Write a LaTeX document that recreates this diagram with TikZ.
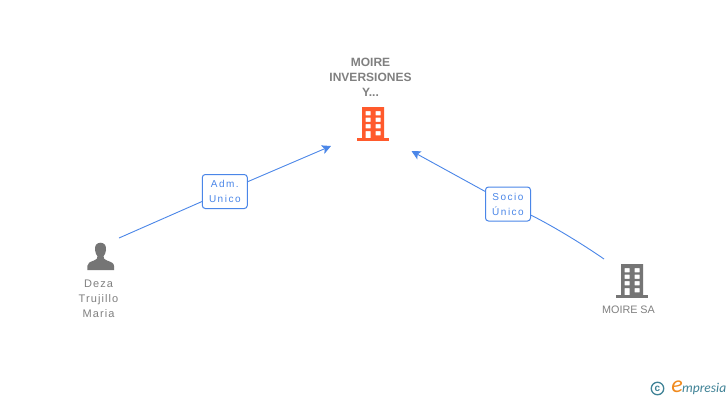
\documentclass[tikz,border=0pt]{standalone}
\usepackage{fontspec}
\setmainfont{Liberation Sans}
\newfontfamily\logofont{Carlito}
\newfontfamily\spaced[LetterSpace=10]{Liberation Sans}
\newfontfamily\spacedb[LetterSpace=15]{Liberation Sans}
\usetikzlibrary{backgrounds,arrows.meta}
\definecolor{iconorange}{HTML}{FF5A2C}
\definecolor{icongray}{HTML}{757575}
\definecolor{txtgray}{HTML}{808080}
\definecolor{edgeblue}{HTML}{4A86E8}
\definecolor{logoteal}{HTML}{3F8296}
\definecolor{logoorange}{HTML}{F08A1E}
\tikzset{
  edgeline/.style={draw=edgeblue,line width=0.9pt},
  edgearrow/.style={edgeline,-{Stealth[length=9pt,width=9pt,inset=2pt]}},
  rolebox/.style={draw=edgeblue,line width=1pt,rounded corners=3pt,fill=white,minimum width=45pt,minimum height=34pt,inner sep=0pt,align=center,text=edgeblue,font=\spacedb\fontsize{10}{15}\selectfont},
  nametext/.style={inner sep=0pt,align=center,text=txtgray,font=\spaced\fontsize{11}{15}\selectfont},
  sanametext/.style={inner sep=0pt,align=center,text=txtgray,font=\fontsize{10.8}{15}\selectfont},
  titletext/.style={inner sep=0pt,align=center,text=txtgray,font=\bfseries\fontsize{12}{15}\selectfont},
  iconanchor/.style={inner sep=0pt,minimum width=32pt,minimum height=34pt},
}
\newcommand{\buildingicon}[3]{%
  \begin{scope}[shift={(#1,#2)}]
    \fill[#3,even odd rule] (-11,-17) rectangle (11,15)
      (-7.5,-13) rectangle (-2.5,-8.7) (2.5,-13) rectangle (7.5,-8.7)
      (-7.5,-6.5) rectangle (-2.5,-2.2) (2.5,-6.5) rectangle (7.5,-2.2)
      (-7.5,0) rectangle (-2.5,4.3) (2.5,0) rectangle (7.5,4.3)
      (-7.5,7) rectangle (-2.5,15) (2.5,7) rectangle (7.5,11.3);
    \fill[#3] (-16,14) rectangle (16,17);
  \end{scope}}
\begin{document}
\begin{tikzpicture}[x=1pt,y=-1pt]
\begin{pgfonlayer}{background}
\fill[white] (0,0) rectangle (728,400);
\end{pgfonlayer}
\useasboundingbox (0,0) rectangle (728,400);
% icons
\node[iconanchor] (moirei) at (373,124) {};
\buildingicon{373}{124}{iconorange}
\node[iconanchor] (moiresa) at (632,281) {};
\buildingicon{632}{281}{icongray}
\node[iconanchor] (deza) at (100.5,256.5) {};
\fill[icongray] (100.5,242.7) .. controls (96,242.7) and (94.6,246.5) .. (95,250)
  .. controls (95.3,253) and (96.4,255) .. (97.5,256.3)
  .. controls (97.8,258.5) and (96.5,259.5) .. (94,260.5)
  .. controls (90,262) and (87.3,263) .. (87.3,266) -- (87.3,270) -- (114,270) -- (114,266)
  .. controls (114,263) and (111,262) .. (107,260.5)
  .. controls (104.5,259.5) and (103.2,258.5) .. (103.5,256.3)
  .. controls (104.6,255) and (105.7,253) .. (106,250)
  .. controls (106.4,246.5) and (105,242.7) .. (100.5,242.7) -- cycle;
% texts
\node[titletext] (title) at (370.5,77.5) {MOIRE\\INVERSIONES\\Y...};
\node[nametext] (dezaname) at (98.5,299) {Deza\\Trujillo\\Maria};
\node[sanametext] (saname) at (628.5,310) {MOIRE SA};
% role boxes
\node[rolebox] (adm) at (224.8,191.5) {Adm.\\Unico};
\node[rolebox] (socio) at (508,204) {Socio\\Único};
% connector ends
\coordinate (dezaend) at (119,238);
\coordinate (moireiL) at (331,146);
\coordinate (moireiR) at (411.5,151);
\coordinate (saend) at (604,259);
\begin{pgfonlayer}{background}
  \draw[edgeline] (dezaend) -- (adm);
  \draw[edgearrow] (adm) -- (moireiL);
  \draw[edgeline] (saend) .. controls (575,239) and (545,222) .. (socio);
  \draw[edgearrow] (socio) -- (moireiR);
\end{pgfonlayer}
% logo
\node[draw=logoteal,line width=1.3pt,circle,minimum size=12.5pt,inner sep=0pt,text=logoteal,font=\bfseries\fontsize{10}{10}\selectfont] (copy) at (657.5,388.5) {c};
\node[inner sep=0pt,text=logoorange,font=\logofont\itshape\fontsize{24}{24}\selectfont] (elogo) at (677,386.5) {e};
\node[inner sep=0pt,anchor=west,text=logoteal,font=\logofont\itshape\fontsize{13.5}{14}\selectfont] (mpresia) at (682,389) {mpresia};
\end{tikzpicture}
\end{document}
